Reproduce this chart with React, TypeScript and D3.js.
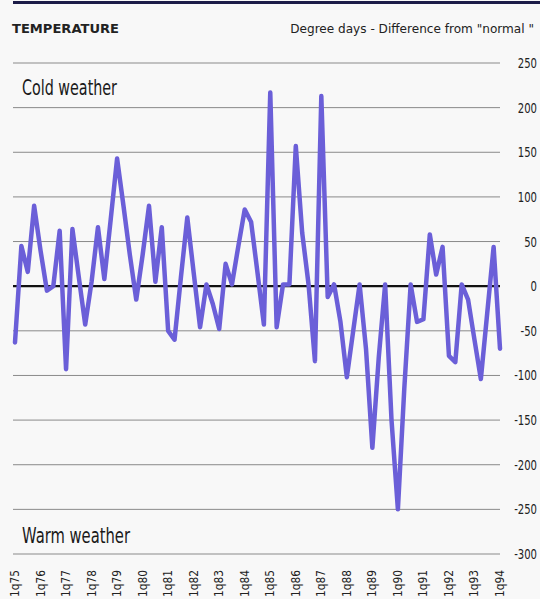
import React from "react";
import * as d3 from "d3";

const years = d3.range(75, 95).map((y) => `1q${y}`);

const values: number[] = [
  -63, 45, 16, 90, 40, -5, 0, 62, -93, 64,
  10, -43, 5, 66, 8, 75, 143, 90, 35, -15,
  35, 90, 5, 66, -50, -60, 10, 77, 15, -46,
  2, -20, -48, 25, 2, 45, 86, 72, 15, -43,
  217, -46, 2, 2, 157, 60, 2, -84, 213, -12,
  2, -40, -102, -50, 2, -70, -181, -80, 2, -150,
  -250, -115, 2, -40, -37, 58, 13, 44, -78, -85,
  2, -15, -60, -104, -30, 44, -70,
];

const yTicks = [250, 200, 150, 100, 50, 0, -50, -100, -150, -200, -250, -300];

const W = 540;
const H = 599;
const font = "'DejaVu Sans', sans-serif";

export default function App() {
  const x = d3.scaleLinear().domain([0, values.length - 1]).range([15, 500]);
  const y = d3.scaleLinear().domain([-300, 250]).range([554, 63]);
  const line = d3
    .line<number>()
    .x((_, i) => x(i))
    .y((d) => y(d))
    .curve(d3.curveLinear);

  return (
    <svg
      width={W}
      height={H}
      style={{ position: "absolute", left: 0, top: 0, display: "block" }}
    >
      <rect x={0} y={0} width={W} height={H} fill="#f8f8f8" />
      <rect x={13} y={1} width={W - 13} height={3} fill="#1c1c48" />
      <text
        x={12}
        y={33}
        fontFamily={font}
        fontWeight="bold"
        fontSize={13}
        fill="#222"
        textLength={107}
        lengthAdjust="spacingAndGlyphs"
      >
        TEMPERATURE
      </text>
      <text
        transform="translate(534,33) scale(0.93,1)"
        textAnchor="end"
        fontFamily={font}
        fontSize={13}
        fill="#222"
      >
        Degree days - Difference from "normal "
      </text>
      {yTicks.map((t) => (
        <g key={t}>
          <line
            x1={13}
            x2={500}
            y1={y(t)}
            y2={y(t)}
            stroke={t === 0 ? "#111" : "#8a8a8a"}
            strokeWidth={t === 0 ? 2.2 : 1}
          />
          <text
            transform={`translate(537,${y(t) + 5}) scale(0.72,1)`}
            textAnchor="end"
            fontFamily={font}
            fontSize={14}
            fill="#222"
          >
            {t < 0 ? `-${Math.abs(t)}` : t}
          </text>
        </g>
      ))}
      <text
        x={22}
        y={95}
        fontFamily={font}
        fontSize={21}
        fill="#1a1a1a"
        textLength={95}
        lengthAdjust="spacingAndGlyphs"
      >
        Cold weather
      </text>
      <text
        x={22}
        y={543}
        fontFamily={font}
        fontSize={21}
        fill="#1a1a1a"
        textLength={108}
        lengthAdjust="spacingAndGlyphs"
      >
        Warm weather
      </text>
      <path
        d={line(values) || ""}
        fill="none"
        stroke="#6b5fd8"
        strokeWidth={4.5}
        strokeLinejoin="round"
        strokeLinecap="round"
      />
      {years.map((lab, i) => {
        const xp = x(i * 4);
        return (
          <text
            key={lab}
            transform={`translate(${xp + 4},597) rotate(-90) scale(0.82,1)`}
            fontFamily={font}
            fontSize={13}
            fill="#222"
          >
            {lab}
          </text>
        );
      })}
    </svg>
  );
}
